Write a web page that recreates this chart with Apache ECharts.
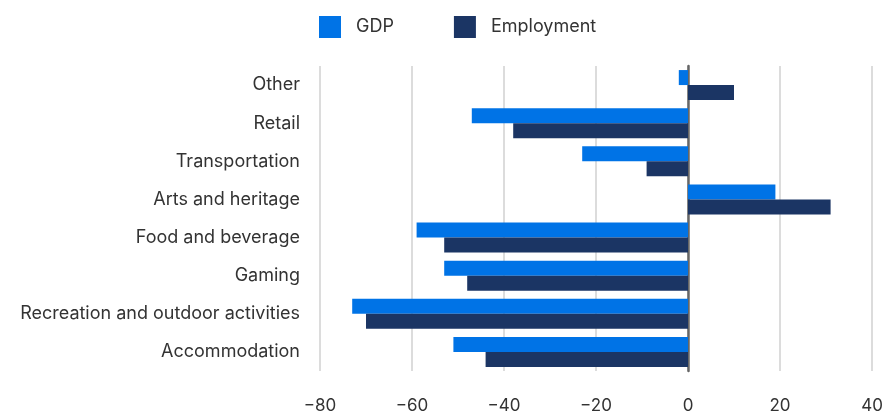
<!DOCTYPE html>
<html><head><meta charset="utf-8">
<script src="https://cdn.jsdelivr.net/npm/echarts@6/dist/echarts.min.js"></script>
<style>html,body{margin:0;padding:0;background:#fff}#c{width:886px;height:414px}</style>
</head><body><div id="c"></div>
<script>
const categories = ["Other","Retail","Transportation","Arts and heritage","Food and beverage","Gaming","Recreation and outdoor activities","Accommodation"];
const gdp = [-2,-47,-23,19,-59,-53,-73,-51];
const employment = [10,-38,-9,31,-53,-48,-70,-44];
const xTicks = {min:-80,max:40,interval:20};
const FONT = "Inter, 'Liberation Sans', sans-serif";
const chart = echarts.init(document.getElementById('c'));
chart.setOption({
  animation:false,
  textStyle:{fontFamily:FONT},
  legend:{left:314,top:11,itemWidth:22,itemHeight:22,itemGap:60,
    icon:'rect',
    textStyle:{fontSize:18,color:'#333',fontFamily:FONT,padding:[0,0,0,10]},
    data:['GDP','Employment']},
  grid:{left:320,right:14,top:66,bottom:42,containLabel:false},
  xAxis:{type:'value',min:xTicks.min,max:xTicks.max,interval:xTicks.interval,
    axisLine:{show:false},axisTick:{show:false},
    splitLine:{lineStyle:{color:'#d0d0d0',width:1.5}},
    axisLabel:{fontSize:17,color:'#333',margin:26,fontFamily:FONT,
      formatter:v=>String(v).replace('-','\u2212')}},
  yAxis:{type:'category',data:categories,inverse:true,
    axisLine:{onZero:true,lineStyle:{color:'#666',width:2.5}},
    axisTick:{show:false},
    axisLabel:{fontSize:18,color:'#333',margin:20,fontFamily:FONT,padding:[3,0,0,0]}},
  series:[
    {name:'GDP',type:'bar',data:gdp,barWidth:15,barGap:'0%',itemStyle:{color:'#0073E6'}},
    {name:'Employment',type:'bar',data:employment,barWidth:15,barGap:'0%',itemStyle:{color:'#1B3564'}}
  ]
});
</script></body></html>
